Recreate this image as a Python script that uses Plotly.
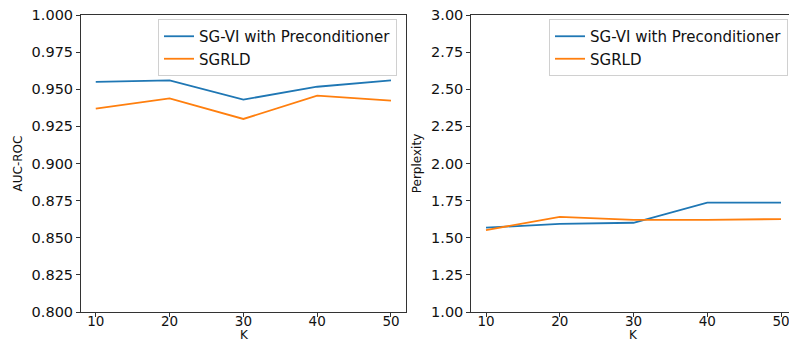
import plotly.graph_objects as go

K = [10, 20, 30, 40, 50]
auc_sgvi = [0.955, 0.956, 0.943, 0.9517, 0.956]
auc_sgrld = [0.937, 0.9439, 0.930, 0.9457, 0.9423]
ppl_sgvi = [1.568, 1.593, 1.601, 1.736, 1.736]
ppl_sgrld = [1.552, 1.640, 1.620, 1.620, 1.626]
auc_ticks = [0.800, 0.825, 0.850, 0.875, 0.900, 0.925, 0.950, 0.975, 1.000]
ppl_ticks = [1.00, 1.25, 1.50, 1.75, 2.00, 2.25, 2.50, 2.75, 3.00]
names = ["SG-VI with Preconditioner", "SGRLD"]

BLUE = "#1f77b4"
ORANGE = "#ff7f0e"
W, H = 789, 343
FONT = "DejaVu Sans"

fig = go.Figure()
fig.add_trace(go.Scatter(x=K, y=auc_sgvi, mode="lines", name=names[0],
                         line=dict(color=BLUE, width=1.8), xaxis="x", yaxis="y", legend="legend"))
fig.add_trace(go.Scatter(x=K, y=auc_sgrld, mode="lines", name=names[1],
                         line=dict(color=ORANGE, width=1.8), xaxis="x", yaxis="y", legend="legend"))
fig.add_trace(go.Scatter(x=K, y=ppl_sgvi, mode="lines", name=names[0],
                         line=dict(color=BLUE, width=1.8), xaxis="x2", yaxis="y2", legend="legend2"))
fig.add_trace(go.Scatter(x=K, y=ppl_sgrld, mode="lines", name=names[1],
                         line=dict(color=ORANGE, width=1.8), xaxis="x2", yaxis="y2", legend="legend2"))

px_per_unit = (391 - 96) / 40.0
x2_end = 8 + (W - 471.25) / px_per_unit

axis_common = dict(showgrid=False, zeroline=False, showline=True, linecolor="#333",
                   linewidth=1, ticks="outside", ticklen=4, tickcolor="#333",
                   automargin=False, ticklabeloverflow="allow")
yfont = dict(family=FONT, size=14.5, color="#111")
xfont = dict(family=FONT, size=13.5, color="#111")

ytop = 1 - 15 / H
ybot = 1 - 312 / H

fig.update_layout(
    width=W, height=H,
    margin=dict(l=0, r=0, t=0, b=0),
    paper_bgcolor="white", plot_bgcolor="white",
    font=dict(family=FONT, color="#111"),
    xaxis=dict(domain=[81 / W, 405.75 / W], range=[8, 52], tickvals=K, mirror=True,
               ticklabelstandoff=-7, tickfont=xfont, anchor="y", **axis_common),
    yaxis=dict(domain=[ybot, ytop], range=[0.8, 1.0], tickvals=auc_ticks, tickformat=".3f",
               mirror=True, anchor="x", tickfont=yfont,
               title=dict(text="AUC-ROC", font=dict(family=FONT, size=12), standoff=6),
               **axis_common),
    xaxis2=dict(domain=[471.25 / W, 1.0], range=[8, x2_end], tickvals=K, mirror=True,
                ticklabelstandoff=-7, tickfont=xfont, anchor="y2", **axis_common),
    yaxis2=dict(domain=[ybot, ytop], range=[1.0, 3.0], tickvals=ppl_ticks, tickformat=".2f",
                mirror=False, anchor="x2", tickfont=yfont,
                title=dict(text="Perplexity", font=dict(family=FONT, size=12), standoff=6),
                **axis_common),
    legend=dict(x=158 / W, y=1 - 19 / H, xanchor="left", yanchor="top",
                bordercolor="#d0d0d0", borderwidth=1, bgcolor="rgba(255,255,255,0.8)",
                font=dict(family=FONT, size=15, color="#111"), tracegroupgap=0),
    legend2=dict(x=549 / W, y=1 - 19 / H, xanchor="left", yanchor="top",
                 bordercolor="#d0d0d0", borderwidth=1, bgcolor="rgba(255,255,255,0.8)",
                 font=dict(family=FONT, size=15, color="#111"), tracegroupgap=0),
)

# x-axis titles placed below tick labels as annotations in paper coordinates
for cx in (244, 633):
    fig.add_annotation(text="K", x=cx / W, y=0, xref="paper", yref="paper",
                       xanchor="center", yanchor="bottom", showarrow=False,
                       borderpad=0, font=dict(family=FONT, size=12, color="#111"))

fig.write_html("out.html")
